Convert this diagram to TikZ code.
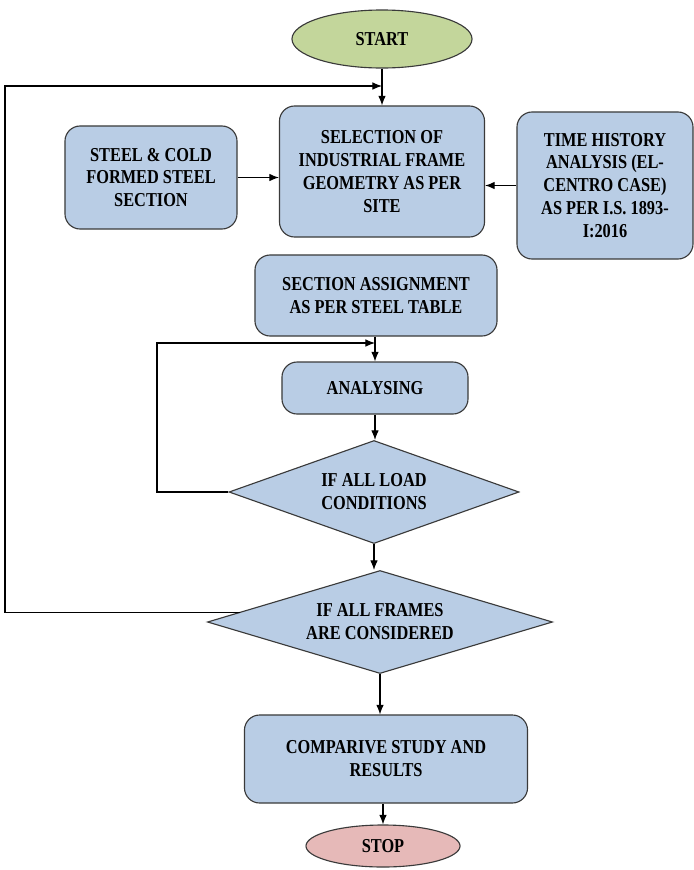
\documentclass[tikz,border=0pt]{standalone}
\usepackage{fontspec}
\setmainfont{Liberation Serif}[FakeStretch=0.83]
\usetikzlibrary{shapes.geometric,arrows.meta}

\definecolor{boxblue}{HTML}{B9CDE5}
\definecolor{startgreen}{HTML}{C3D69B}
\definecolor{stoppink}{HTML}{E6B9B8}
\definecolor{edgegray}{HTML}{3A3A3A}

\begin{document}
\begin{tikzpicture}[x=0.025cm,y=-0.025cm,>={Latex[length=2.4mm,width=1.9mm]},thick,
  font=\fontsize{14}{16.3}\selectfont\bfseries,
  stepbox/.style={draw=edgegray,fill=boxblue,rounded corners=0.38cm,align=center,inner sep=2pt},
  termbox/.style={draw=edgegray,ellipse,inner sep=0pt},
  testbox/.style={draw=edgegray,fill=boxblue,diamond,align=center,inner sep=0pt}]

\useasboundingbox (0,0) rectangle (694,870);

% Start and the input boxes
\node[termbox,fill=startgreen,minimum width=4.5cm,minimum height=1.45cm] (start) at (382,39) {START};
\node[stepbox,minimum width=5.125cm,minimum height=3.275cm] (select) at (382,171.5) {SELECTION OF\\INDUSTRIAL FRAME\\GEOMETRY AS PER\\SITE};
\node[stepbox,minimum width=4.3cm,minimum height=2.575cm] (steel) at (151,177.5) {STEEL \& COLD\\FORMED STEEL\\SECTION};
\node[stepbox,minimum width=4.4cm,minimum height=3.675cm] (timeh) at (605,185.5) {TIME HISTORY\\ANALYSIS (EL-\\CENTRO CASE)\\AS PER I.S. 1893-\\I:2016};

% Main column
\node[stepbox,minimum width=6.05cm,minimum height=2.025cm] (assign) at (376,295.5) {SECTION ASSIGNMENT\\AS PER STEEL TABLE};
\node[stepbox,minimum width=4.65cm,minimum height=1.3cm] (analyse) at (375,388) {ANALYSING};
\node[testbox,aspect=2.8,minimum width=7.25cm,minimum height=2.575cm] (cond) at (374,492) {IF ALL LOAD\\CONDITIONS};
\node[testbox,aspect=3.3,minimum width=8.625cm,minimum height=2.575cm] (frames) at (380,622) {IF ALL FRAMES\\ARE CONSIDERED};
\node[stepbox,minimum width=7.075cm,minimum height=2.2cm] (result) at (386,759) {COMPARIVE STUDY AND\\RESULTS};
\node[termbox,fill=stoppink,minimum width=3.85cm,minimum height=1.05cm] (stop) at (383,846) {STOP};

% Loop corners and where the loops join in
\coordinate (outer) at (5,86);
\coordinate (join1) at (382,86);
\coordinate (inner) at (157,343);
\coordinate (join2) at (375,343);

% Arrows
\draw[->] (start.south) -- (start.south |- select.north);
\draw[->] (steel.east) -- (steel.east -| select.west);
\draw[->] (timeh.west) -- (timeh.west -| select.east);
\draw[->] (assign.south -| analyse.north) -- (analyse.north);
\draw[->] (analyse.south) -- (analyse.south |- cond.north);
\draw[->] (cond.south) -- (cond.south |- frames.north);
\draw[->] (frames.south) -- (frames.south |- result.north);
\draw[->] (result.south -| stop.north) -- (stop.north);

% Feedback loops
\draw[->] (cond.west) -| (inner) -- (join2);
\draw[->] (frames.176) -| (outer) -- (join1);

\end{tikzpicture}
\end{document}
